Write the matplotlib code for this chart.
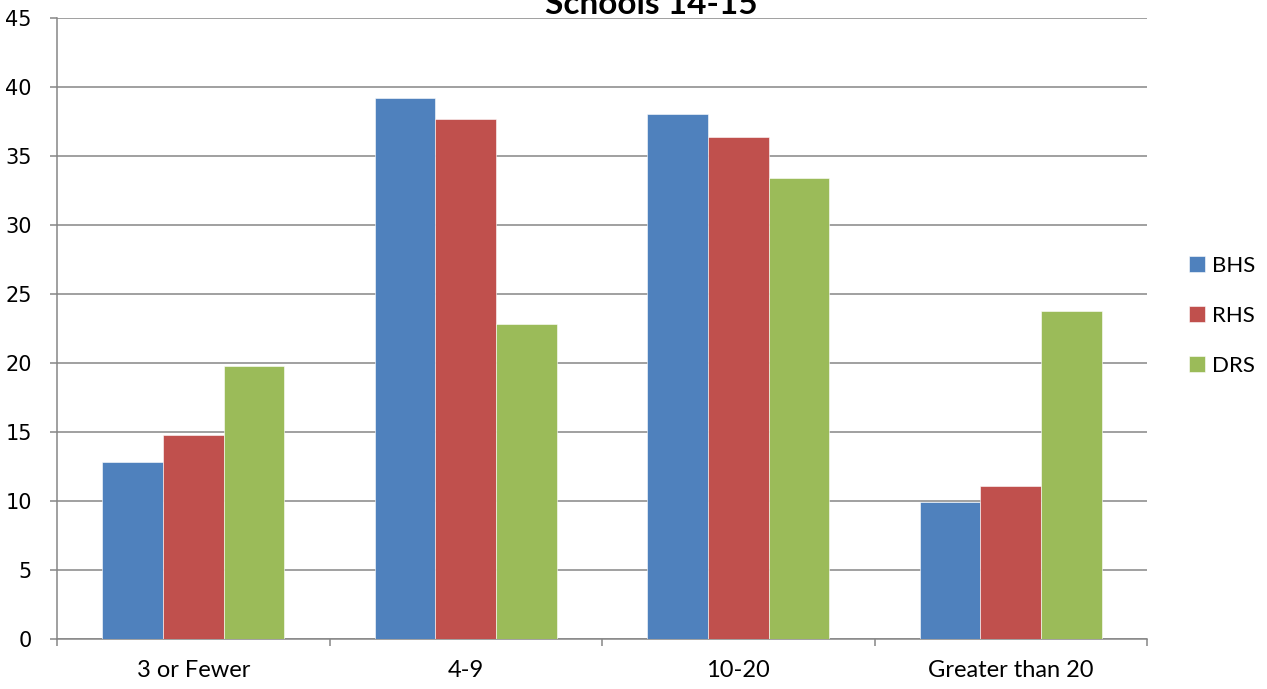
import matplotlib.pyplot as plt
import numpy as np

# data
categories = ["3 or Fewer", "4-9", "10-20", "Greater than 20"]
bhs = [12.8, 39.2, 38.05, 9.9]
rhs = [14.8, 37.65, 36.4, 11.1]
drs = [19.8, 22.85, 33.4, 23.75]
series_names = ["BHS", "RHS", "DRS"]
colors = ["#4F81BD", "#C0504D", "#9BBB59"]

fig = plt.figure(figsize=(12.67, 6.89), dpi=100)
ax = fig.add_axes([57 / 1267, 1 - 638.8 / 689, 1090 / 1267, 620.8 / 689])

x = np.arange(len(categories))
w = 1 / 4.5  # excel gap width 150%
for i, (vals, name) in enumerate(zip([bhs, rhs, drs], series_names)):
    ax.bar(x + (i - 1) * w, vals, width=w, color=colors[i], label=name,
           edgecolor="white", linewidth=0.4, zorder=3)

ax.set_xlim(-0.5, len(categories) - 0.5)
ax.set_ylim(0, 45)
ax.set_yticks(range(0, 46, 5))
ax.yaxis.grid(True, color="#868686", linewidth=1.1, zorder=0)

ax.set_xticks(x)
ax.set_xticklabels(categories, fontfamily="Lato", fontsize=17)
ax.set_xticks(np.arange(-0.5, len(categories)), minor=True)
ax.tick_params(axis="x", which="major", length=0, pad=15)
ax.tick_params(axis="x", which="minor", length=5, color="#868686", width=1.1)
ax.tick_params(axis="y", length=5, color="#868686", width=1.1, labelsize=15, pad=13)
for t in ax.get_yticklabels():
    t.set_fontfamily("DejaVu Sans")

for s in ["top", "right"]:
    ax.spines[s].set_visible(False)
for s in ["left", "bottom"]:
    ax.spines[s].set_color("#868686")
    ax.spines[s].set_linewidth(1.1)

fig.text(651 / 1267, 1 - 14 / 689, "Schools 14-15", ha="center", va="baseline",
         fontfamily="Lato", fontweight="bold", fontsize=24)

fig.legend(loc="center left", bbox_to_anchor=(1169 / 1267, 1 - 316 / 689),
           frameon=False, handlelength=0.7, handleheight=0.7, handletextpad=0.35,
           labelspacing=1.35, prop={"family": "Lato", "size": 16})

fig.savefig("out.png", dpi=100)
